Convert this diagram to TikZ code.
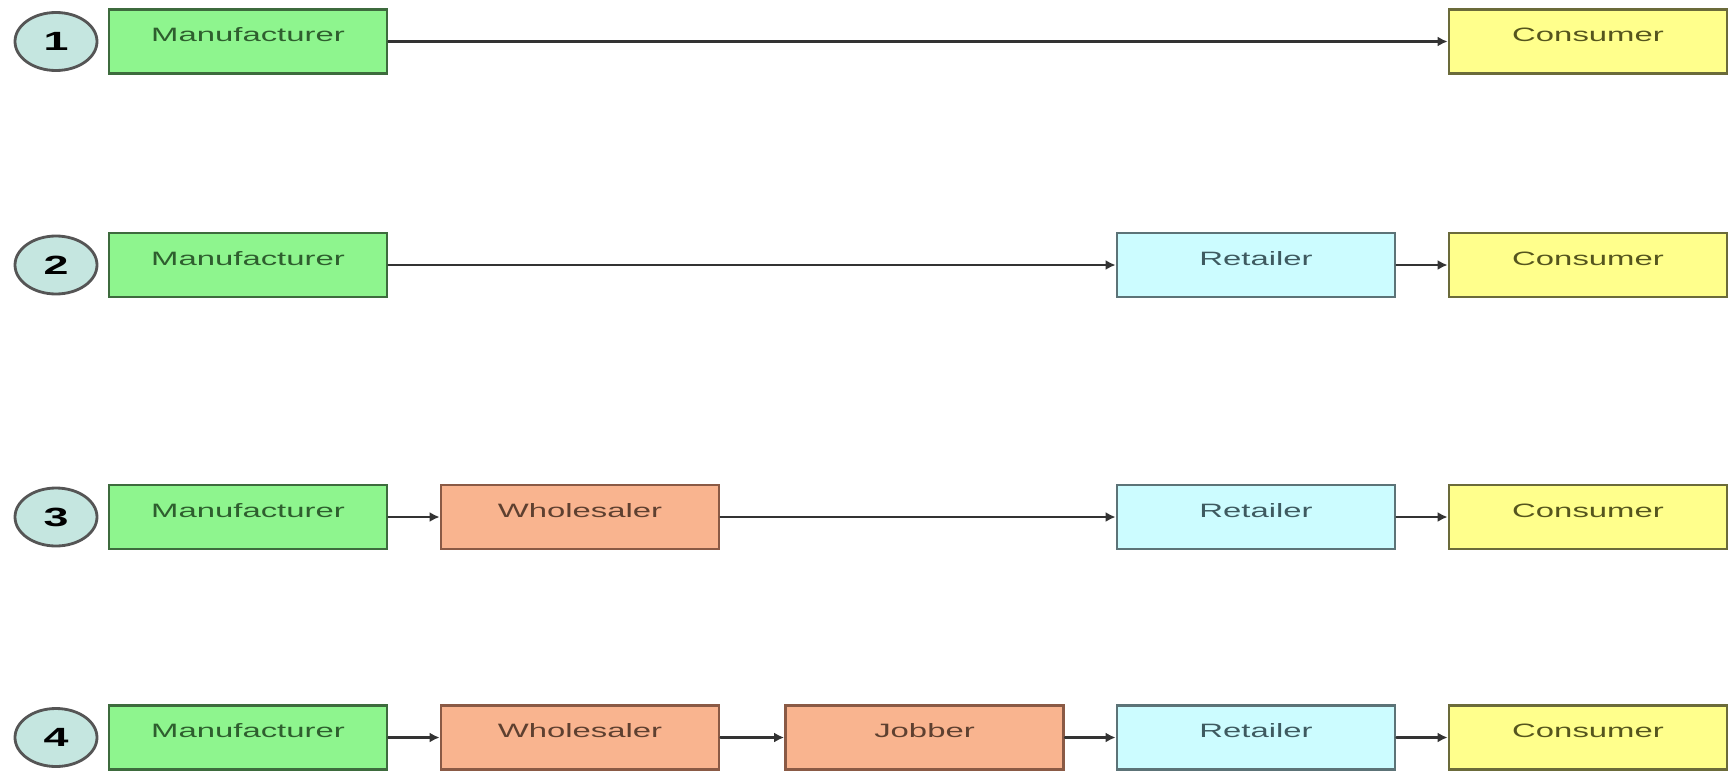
\documentclass[tikz,border=0pt]{standalone}
\usepackage{fontspec}
\newfontfamily\boxfont[FakeStretch=1.7]{Liberation Sans}
\usetikzlibrary{arrows.meta,shapes.geometric}

\begin{document}
\begin{tikzpicture}[>={Latex[length=1mm,width=1mm]}, line cap=round,
  box/.style={draw, line width=0.8pt, minimum width=2.78cm, minimum height=0.64cm,
    inner sep=0pt, text height=0.14cm, text depth=0.14cm, font=\boxfont\fontsize{5.5}{6}\selectfont},
  mfr/.style={box, fill=mfill, draw=mline, text=mtext},
  whl/.style={box, fill=wfill, draw=wline, text=wtext},
  rtl/.style={box, fill=rfill, draw=rline, text=rtext},
  csm/.style={box, fill=cfill, draw=cline, text=ctext},
  num/.style={ellipse, draw=numline, fill=numfill, line width=0.8pt, inner sep=0pt,
    minimum width=0.82cm, minimum height=0.58cm, font=\boxfont\bfseries\fontsize{7.5}{8}\selectfont},
  link/.style={->, draw=linkc, line width=0.6pt}]
  \definecolor{mfill}{HTML}{8EF58E}\definecolor{mline}{HTML}{3D6B3D}\definecolor{mtext}{HTML}{2E5E2E}
  \definecolor{wfill}{HTML}{F9B48F}\definecolor{wline}{HTML}{8A5A45}\definecolor{wtext}{HTML}{5E4030}
  \definecolor{rfill}{HTML}{CCFCFF}\definecolor{rline}{HTML}{5C7377}\definecolor{rtext}{HTML}{3E5A60}
  \definecolor{cfill}{HTML}{FFFF8C}\definecolor{cline}{HTML}{6B6B3A}\definecolor{ctext}{HTML}{55551E}
  \definecolor{numfill}{HTML}{C5E6E0}\definecolor{numline}{HTML}{555555}
  \definecolor{linkc}{HTML}{333333}
  \useasboundingbox (0,0) rectangle (17.33,7.7);
  % row numbers
  \foreach \n/\y in {1/7.285, 2/5.05, 3/2.53, 4/0.325}
    \node[num] (n\n) at (0.56,\y) {\n};
  % 1: direct
  \node[mfr] (m1) at (2.48,7.285) {Manufacturer};
  \node[csm] (c1) at (15.88,7.285) {Consumer};
  \draw[link] (m1) -- (c1);
  % 2: one level
  \node[mfr] (m2) at (2.48,5.05) {Manufacturer};
  \node[rtl] (r2) at (12.56,5.05) {Retailer};
  \node[csm] (c2) at (15.88,5.05) {Consumer};
  \draw[link] (m2) -- (r2);
  \draw[link] (r2) -- (c2);
  % 3: two levels
  \node[mfr] (m3) at (2.48,2.53) {Manufacturer};
  \node[whl] (w3) at (5.80,2.53) {Wholesaler};
  \node[rtl] (r3) at (12.56,2.53) {Retailer};
  \node[csm] (c3) at (15.88,2.53) {Consumer};
  \draw[link] (m3) -- (w3);
  \draw[link] (w3) -- (r3);
  \draw[link] (r3) -- (c3);
  % 4: three levels
  \node[mfr] (m4) at (2.48,0.325) {Manufacturer};
  \node[whl] (w4) at (5.80,0.325) {Wholesaler};
  \node[whl] (j4) at (9.245,0.325) {Jobber};
  \node[rtl] (r4) at (12.56,0.325) {Retailer};
  \node[csm] (c4) at (15.88,0.325) {Consumer};
  \draw[link] (m4) -- (w4);
  \draw[link] (w4) -- (j4);
  \draw[link] (j4) -- (r4);
  \draw[link] (r4) -- (c4);
\end{tikzpicture}
\end{document}
